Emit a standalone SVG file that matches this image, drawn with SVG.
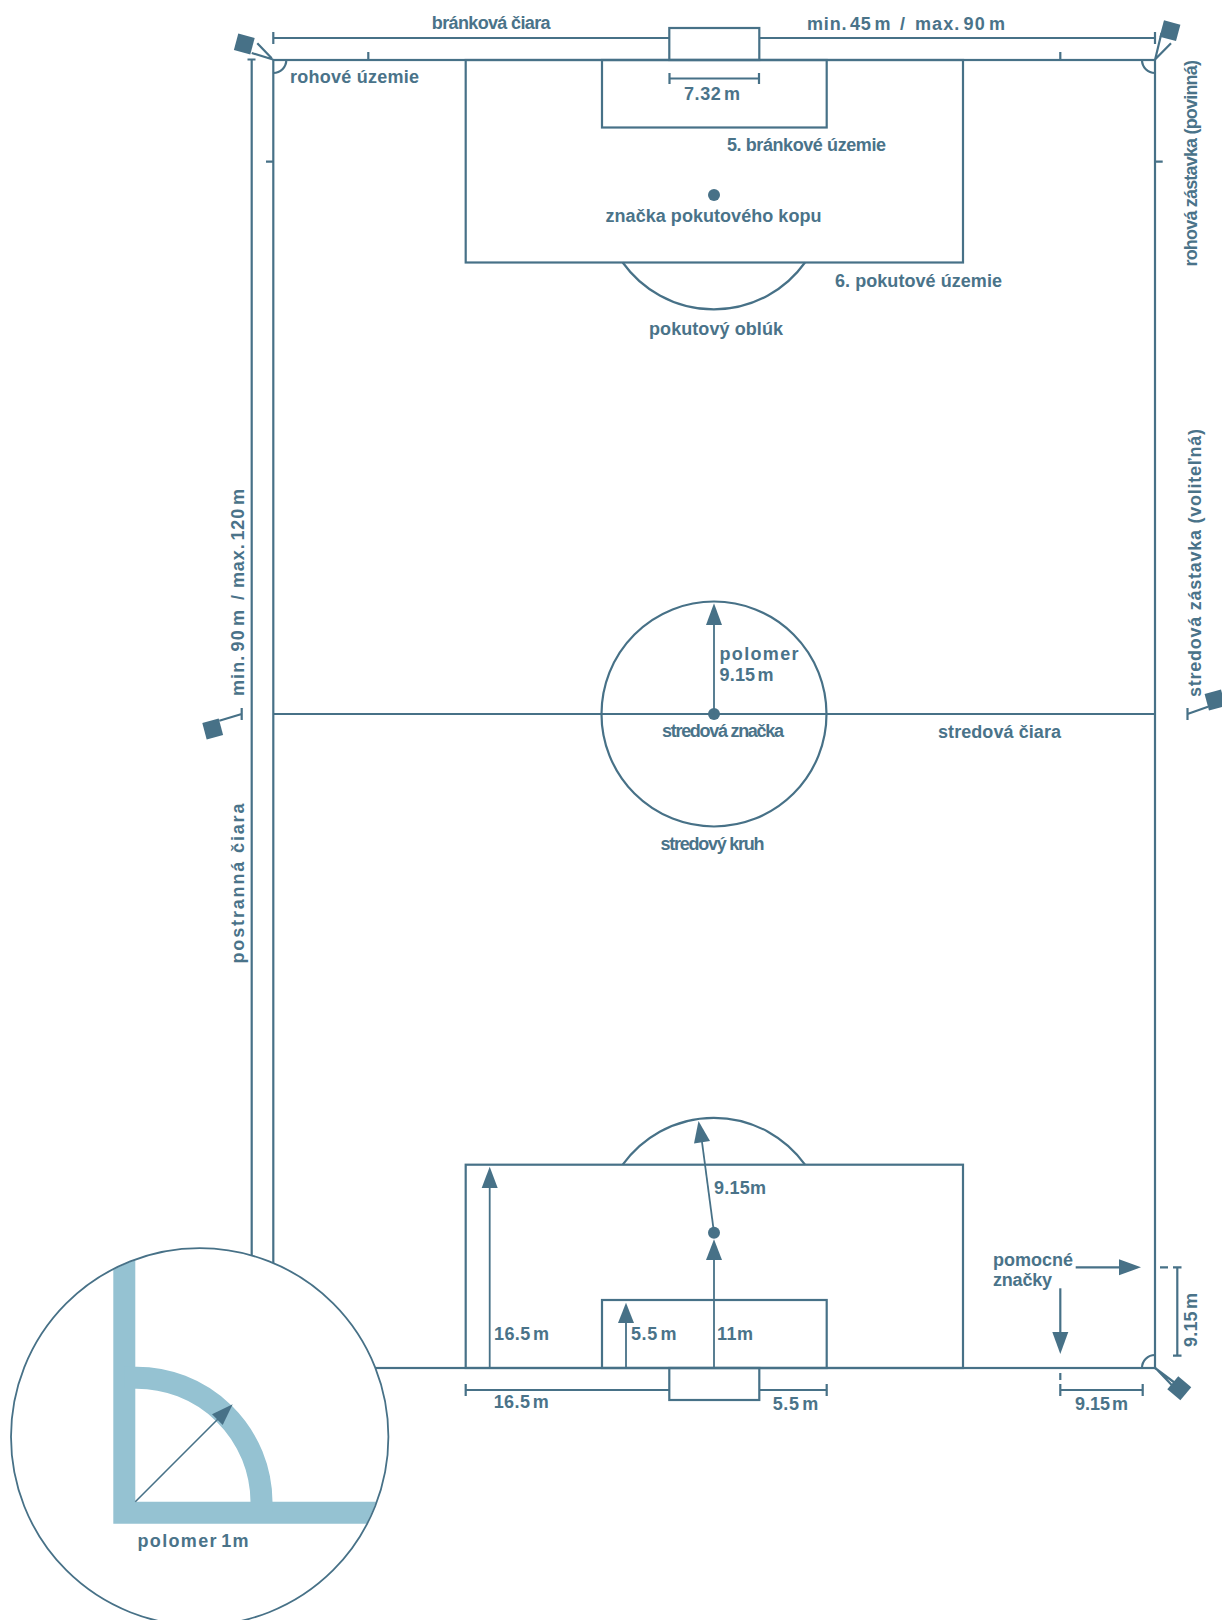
<svg xmlns="http://www.w3.org/2000/svg" width="1222" height="1620" viewBox="0 0 1222 1620">
<style>
.l{fill:none;stroke:#477187;stroke-width:2.2}
.t{fill:none;stroke:#477187;stroke-width:1.8}
.f{fill:#477187;stroke:none}
.o{fill:none;stroke:#95c2d2;stroke-width:22}
text{font-family:"Liberation Sans",Arial,sans-serif;font-weight:700;font-size:18px;fill:#4a7389}
.n{word-spacing:-3px}
</style>
<defs>
<clipPath id="lens"><circle cx="199.7" cy="1436.8" r="188"/></clipPath>
</defs>
<rect width="1222" height="1620" fill="#fff"/>
<g id="pitch">
<rect class="l" x="273.3" y="60" width="881.7" height="1308"/>
<line class="l" x1="273.3" y1="714" x2="1155" y2="714"/>
<circle class="l" cx="714" cy="714" r="112.5"/>
<rect class="l" x="465.7" y="60" width="497.3" height="202.5"/>
<rect class="l" x="602" y="60" width="224.7" height="67.5"/>
<rect class="l" x="669.3" y="28" width="90" height="32"/>
<path class="l" d="M622.7 262.5A112 112 0 0 0 805 262.5"/>
<rect class="l" x="465.7" y="1164.7" width="497.3" height="203.3"/>
<rect class="l" x="602" y="1300" width="224.7" height="68"/>
<rect class="l" x="669.3" y="1368" width="90" height="32"/>
<path class="l" d="M622.7 1164.7A112 112 0 0 1 805 1164.7"/>
<circle class="f" cx="714" cy="195" r="6"/>
<circle class="f" cx="714" cy="714" r="6"/>
<circle class="f" cx="714" cy="1232.7" r="6"/>
<path class="l" d="M286.3 60A13 13 0 0 1 273.3 73M1142 60A13 13 0 0 0 1155 73M1142 1368A13 13 0 0 1 1155 1355"/>
<path class="l" d="M368.3 52V60M1060.3 52V60M266 161.7H273.3M1155 161.7H1162.7"/>
</g>
<g id="connectors">
<path class="l" d="M273.3 32V44M273.3 38H669.3M759.3 38H1155M1155 32V44"/>
<path class="l" d="M669.5 78.5H759M669.5 73V84M759 73V84"/>
<path class="l" d="M251.7 60V1290M247.5 59.5H255.5"/>
<path class="l" d="M465.7 1384V1396M465.7 1390H669.3M759.3 1390H826.7M826.7 1384V1396"/>
<path class="l" d="M1060.3 1373V1380M1060.3 1384V1396M1060.3 1390H1142.7M1142.7 1384V1396"/>
<path class="l" d="M1160 1267.3H1168M1173 1267.3H1181.5M1177.3 1267.3V1355.7M1173 1355.7H1181.5"/>
<line class="t" x1="714" y1="714" x2="714" y2="625"/><polygon class="f" points="714,603.3 706,625 722,625"/>
<line class="t" x1="489.7" y1="1368" x2="489.7" y2="1188"/><polygon class="f" points="489.7,1166.7 481.7,1188 497.7,1188"/>
<line class="t" x1="626" y1="1368" x2="626" y2="1323"/><polygon class="f" points="626,1302.7 618,1323 634,1323"/>
<line class="t" x1="714" y1="1368" x2="714" y2="1260"/><polygon class="f" points="714,1239.3 706,1260 722,1260"/>
<line class="t" x1="714" y1="1232.7" x2="702" y2="1142"/><polygon class="f" points="698.5,1121 694,1143.5 710,1141"/>
<line class="l" x1="1075.7" y1="1267.3" x2="1120" y2="1267.3"/><polygon class="f" points="1141,1267.3 1119,1259.3 1119,1275.3"/>
<line class="l" x1="1060.3" y1="1288.3" x2="1060.3" y2="1333"/><polygon class="f" points="1060.3,1354 1052.3,1332 1068.3,1332"/>
</g>
<g id="flag-top-left">
<path class="l" d="M273 59.5L251.7 53M271.7 58.3L257.3 43.3"/>
<rect class="f" x="-8.5" y="-8.5" width="17" height="17" transform="translate(244.3 44) rotate(15)"/>
</g>
<g id="flag-top-right">
<path class="l" d="M1155 60L1161.5 33M1155.5 59L1171 43.3"/>
<rect class="f" x="-8.5" y="-8.5" width="17" height="17" transform="translate(1170 30.7) rotate(15)"/>
</g>
<g id="flag-bottom-right">
<path class="l" d="M1155 1368L1175 1383M1155.5 1368L1171.7 1385"/>
<rect class="f" x="-8.5" y="-8.5" width="17" height="17" transform="translate(1179.3 1388.3) rotate(40)"/>
</g>
<g id="flag-mid-left">
<path class="l" d="M219.3 720.7L241.7 714M241.7 708V720"/>
<rect class="f" x="-8.5" y="-8.5" width="17" height="17" transform="translate(212.7 729) rotate(-15)"/>
</g>
<g id="flag-mid-right">
<path class="l" d="M1187.5 714L1208 706.7M1187.5 708V720"/>
<rect class="f" x="-8.5" y="-8.5" width="17" height="17" transform="translate(1215 700) rotate(-15)"/>
</g>
<g id="labels">
<text x="431.8" y="29" textLength="118.8">bránková čiara</text>
<text class="n" y="30"><tspan x="807" textLength="83.5">min. 45 m</tspan> <tspan x="900">/</tspan> <tspan x="915" textLength="90">max. 90 m</tspan></text>
<text x="290" y="83" textLength="129">rohové územie</text>
<text class="n" x="684" y="100" textLength="56">7.32 m</text>
<text x="727" y="151" textLength="159">5. bránkové územie</text>
<text x="605.5" y="222" textLength="216">značka pokutového kopu</text>
<text x="835" y="287" textLength="167">6. pokutové územie</text>
<text x="649" y="335" textLength="134">pokutový oblúk</text>
<text x="719.5" y="660" textLength="79">polomer</text>
<text class="n" x="719.5" y="681" textLength="54">9.15 m</text>
<text x="662" y="737" textLength="122">stredová značka</text>
<text x="938" y="738" textLength="123">stredová čiara</text>
<text x="660.5" y="850" textLength="104">stredový kruh</text>
<text x="714" y="1194" textLength="52">9.15m</text>
<text class="n" x="494" y="1340" textLength="55">16.5 m</text>
<text class="n" x="631" y="1340" textLength="45.5">5.5 m</text>
<text x="717" y="1340" textLength="36">11m</text>
<text class="n" x="493.7" y="1408" textLength="55">16.5 m</text>
<text class="n" x="772.7" y="1410" textLength="45.5">5.5 m</text>
<text class="n" x="1075" y="1410" textLength="53">9.15 m</text>
<text x="993" y="1266" textLength="80">pomocné</text>
<text x="993" y="1286" textLength="59">značky</text>
<text class="n" transform="translate(1197 1347) rotate(-90)" textLength="54">9.15 m</text>
<text class="n" transform="translate(244 696) rotate(-90)"><tspan x="0" textLength="86">min. 90 m</tspan> <tspan x="96">/</tspan> <tspan x="108" textLength="99">max. 120 m</tspan></text>
<text transform="translate(244 963.5) rotate(-90)" textLength="160">postranná čiara</text>
<text transform="translate(1196.5 266.5) rotate(-90)" textLength="206.5">rohová zástavka (povinná)</text>
<text transform="translate(1201 697) rotate(-90)" textLength="268">stredová zástavka (voliteľná)</text>
</g>
<g id="corner-detail">
<circle cx="199.7" cy="1436.8" r="188.7" fill="#fff"/>
<g clip-path="url(#lens)">
<path class="o" d="M124.3 1240V1512.7H400"/>
<path class="o" d="M124.3 1377.7H135.3A125 125 0 0 1 261.5 1501.7V1512"/>
</g>
<circle cx="199.7" cy="1436.8" r="188.7" class="l" style="stroke-width:1.8"/>
<line x1="135.3" y1="1501.7" x2="219" y2="1418" stroke="#477187" stroke-width="1.6"/>
<polygon class="f" points="232.7,1404.3 212,1414.3 222.7,1425"/>
<text class="n" x="137.5" y="1547" textLength="111">polomer 1m</text>
</g>
</svg>
